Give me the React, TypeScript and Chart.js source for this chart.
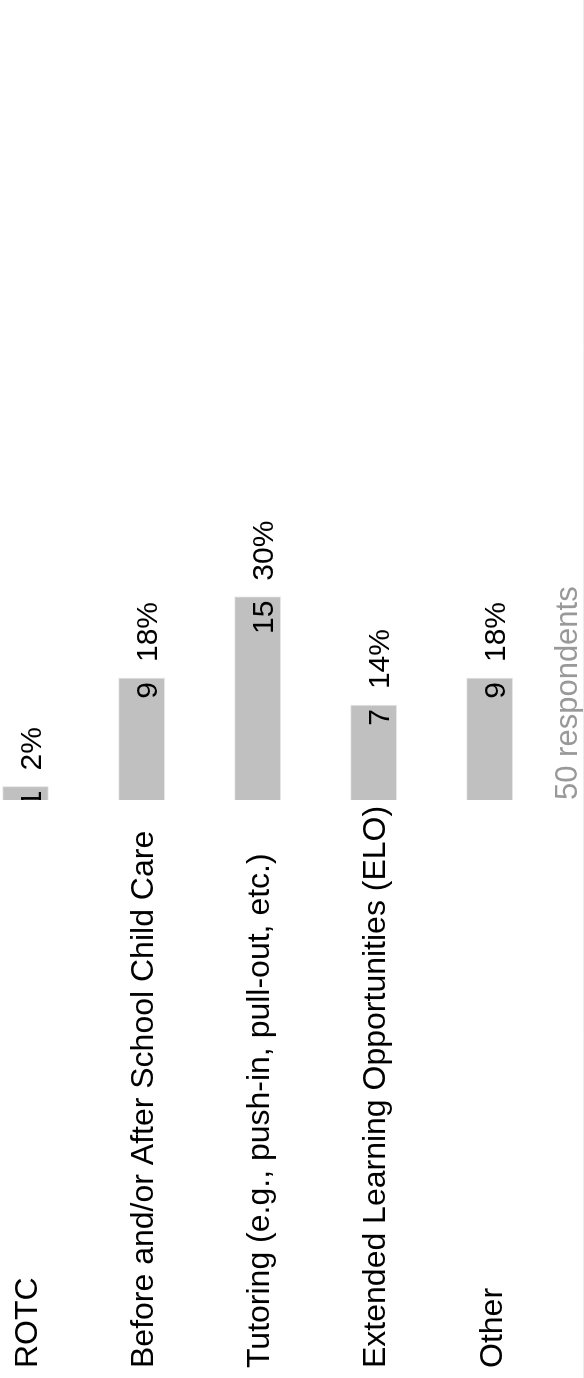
import React, { useEffect, useRef } from "react";
import { Chart, registerables } from "chart.js";

Chart.register(...registerables);

const categories = [
  "ROTC",
  "Before and/or After School Child Care",
  "Tutoring (e.g., push-in, pull-out, etc.)",
  "Extended Learning Opportunities (ELO)",
  "Other",
];
const counts = [1, 9, 15, 7, 9];
const percentLabels = ["2%", "18%", "30%", "14%", "18%"];
const respondents = 50;

const FAMILY = '"Liberation Sans", Arial, Helvetica, sans-serif';
const W = 1378;
const H = 584;

const labelPlugin = {
  id: "valueLabels",
  afterDatasetsDraw(chart: any) {
    const ctx = chart.ctx;
    const meta = chart.getDatasetMeta(0);
    const area = chart.chartArea;
    ctx.save();
    ctx.font = `30px ${FAMILY}`;
    ctx.textBaseline = "middle";
    ctx.fillStyle = "#000";
    meta.data.forEach((bar: any, i: number) => {
      const { x, y } = bar.getProps(["x", "y"], true);
      ctx.save();
      ctx.beginPath();
      ctx.rect(area.left, 0, chart.width - area.left, chart.height);
      ctx.clip();
      ctx.textAlign = "right";
      ctx.fillText(String(counts[i]), x - 4, y + 7);
      ctx.restore();
      ctx.textAlign = "left";
      ctx.fillText(percentLabels[i], x + 16, y + 7);
    });
    ctx.fillStyle = "#999";
    ctx.font = `31px ${FAMILY}`;
    ctx.textBaseline = "alphabetic";
    ctx.textAlign = "left";
    ctx.fillText(`${respondents} respondents`, area.left, chart.height - 7);
    ctx.strokeStyle = "#ececec";
    ctx.lineWidth = 1;
    ctx.beginPath();
    ctx.moveTo(0, chart.height - 0.5);
    ctx.lineTo(chart.width, chart.height - 0.5);
    ctx.stroke();
    ctx.restore();
  },
};

export default function App() {
  const ref = useRef<HTMLCanvasElement>(null);
  useEffect(() => {
    document.body.style.overflow = "hidden";
    const chart = new Chart(ref.current as HTMLCanvasElement, {
      type: "bar",
      data: {
        labels: categories,
        datasets: [
          {
            data: counts,
            backgroundColor: "#c0c0c0",
            borderColor: "#e6e6e6",
            borderWidth: 1,
            barThickness: 46,
            clip: false as any,
          } as any,
        ],
      },
      options: {
        indexAxis: "y",
        responsive: false,
        animation: false,
        devicePixelRatio: 1,
        layout: { padding: { left: 10, top: 25.5, right: 122.3, bottom: 94.3 } },
        plugins: { legend: { display: false }, tooltip: { enabled: false } },
        scales: {
          x: { display: false, min: 0, max: 50 },
          y: {
            offset: false,
            grid: { display: false },
            border: { display: false },
            ticks: {
              crossAlign: "far",
              padding: 0,
              autoSkip: false,
              labelOffset: 3,
              color: "#000",
              font: { size: 32, family: FAMILY },
            },
            afterFit: (s: any) => {
              s.width = 568;
            },
          },
        },
      } as any,
      plugins: [labelPlugin],
    });
    return () => chart.destroy();
  }, []);
  return (
    <div
      style={{
        position: "fixed",
        left: 0,
        top: 0,
        width: W,
        height: H,
        transformOrigin: "0 0",
        transform: `translateY(${W}px) rotate(-90deg)`,
        background: "#fff",
      }}
    >
      <canvas ref={ref} width={W} height={H} style={{ display: "block", width: W, height: H }} />
    </div>
  );
}
